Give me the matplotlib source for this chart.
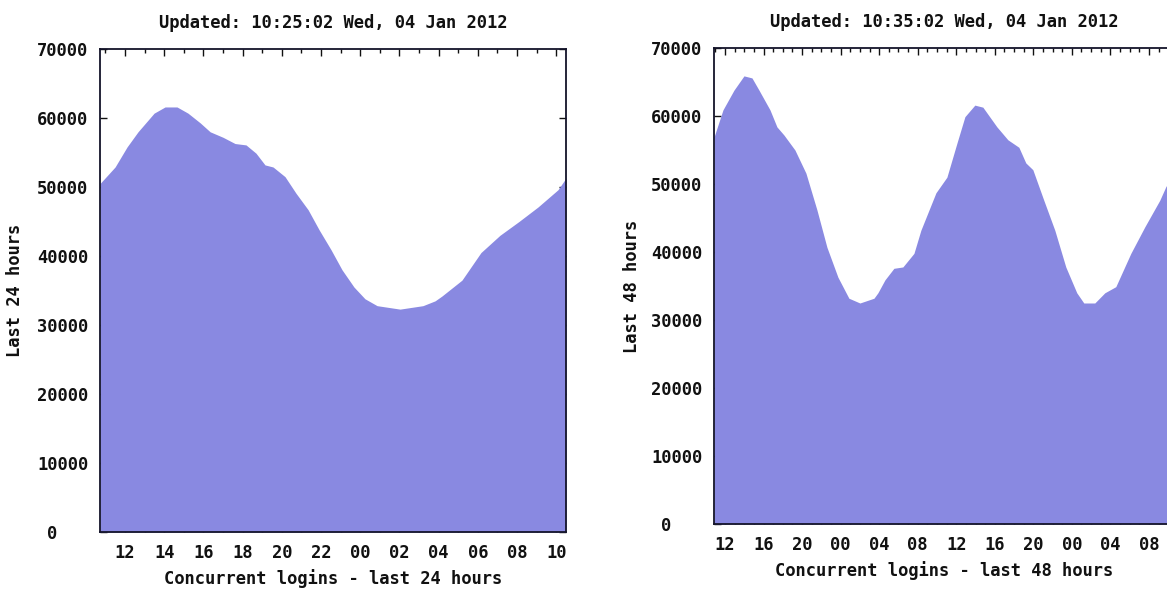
import matplotlib
matplotlib.use("Agg")
import matplotlib.pyplot as plt
from matplotlib.ticker import FixedLocator, MultipleLocator, FuncFormatter

# ---- data (hours since 00:00 of first day, concurrent logins) ----
hours_24 = [10.72, 11.49, 12.10, 12.66, 13.48, 14.04, 14.65, 15.21, 15.83, 16.34,
            17.00, 17.61, 18.17, 18.68, 19.14, 19.55, 20.16, 20.72, 21.34, 21.90,
            22.51, 23.07, 23.68, 24.24, 24.86, 26.03, 27.20, 27.82, 28.17, 29.19,
            30.16, 31.13, 32.10, 33.07, 34.09, 34.50]
logins_24 = [50500, 52900, 55800, 58000, 60700, 61600, 61600, 60700, 59300, 58000,
             57200, 56300, 56100, 54900, 53200, 52900, 51500, 49100, 46700, 43800,
             40900, 38000, 35500, 33800, 32800, 32300, 32800, 33500, 34200, 36500,
             40500, 43000, 45000, 47100, 49600, 51300]

hours_48 = [10.86, 11.79, 12.93, 13.97, 14.80, 15.53, 16.67, 17.39, 18.12, 19.26,
            20.40, 21.54, 22.58, 23.72, 24.86, 26.00, 27.46, 27.87, 28.60, 29.53,
            30.46, 31.61, 32.33, 33.89, 35.03, 36.07, 36.90, 37.93, 38.76, 40.22,
            41.36, 42.50, 43.22, 43.95, 45.09, 46.23, 47.37, 48.51, 49.24, 50.38,
            51.42, 52.56, 54.12, 55.57, 57.12, 57.75, 58.60]
logins_48 = [56900, 60900, 63800, 65900, 65600, 63800, 60900, 58400, 57200, 55000,
             51600, 46200, 40700, 36300, 33200, 32500, 33200, 34000, 35900, 37600,
             37800, 39800, 43200, 48700, 51000, 56000, 59900, 61600, 61300, 58400,
             56500, 55400, 53100, 52100, 47600, 43200, 37800, 34000, 32500, 32500,
             34000, 34900, 39800, 43700, 47600, 49600, 51500]

titles = ["Updated: 10:25:02 Wed, 04 Jan 2012", "Updated: 10:35:02 Wed, 04 Jan 2012"]
xlabels = ["Concurrent logins - last 24 hours", "Concurrent logins - last 48 hours"]
ylabels = ["Last 24 hours", "Last 48 hours"]
y_ticks = [0, 10000, 20000, 30000, 40000, 50000, 60000, 70000]
y_ticklabels = ["0   ", "10000", "20000", "30000", "40000", "50000", "60000", "70000"]

FILL = "#8989E1"
FONT = dict(family="DejaVu Sans Mono", weight="bold", size=12.3)

W, H = 1167, 589
fig = plt.figure(figsize=(W / 100, H / 100), dpi=100)
fig.patch.set_facecolor("white")

# pixel boxes: left, right, top, bottom
boxes = [(100, 566, 49, 532), (714, 1174, 48, 524)]
xlims = [(10.72, 34.5), (10.86, 58.6)]
majors = [2, 4]
series = [(hours_24, logins_24), (hours_48, logins_48)]
ylabel_x = [15, 632]

for i in range(2):
    l, r, t, b = boxes[i]
    ax = fig.add_axes([l / W, (H - b) / H, (r - l) / W, (b - t) / H])
    xs, ys = series[i]
    ax.fill_between(xs, ys, 0, color=FILL, lw=0, zorder=1)
    ax.set_xlim(*xlims[i])
    ax.set_ylim(0, 70000)
    ax.set_axisbelow(True)

    ax.xaxis.set_major_locator(MultipleLocator(majors[i]))
    ax.xaxis.set_minor_locator(MultipleLocator(1))
    ax.xaxis.set_major_formatter(FuncFormatter(lambda v, p: "%02d" % (int(round(v)) % 24)))
    ax.yaxis.set_major_locator(FixedLocator(y_ticks))
    ax.set_yticklabels(y_ticklabels)

    ax.tick_params(which="both", direction="in", top=True, right=True, color="#111")
    ax.tick_params(which="major", length=5, width=1)
    ax.tick_params(which="minor", length=3, width=1)
    ax.tick_params(axis="x", which="major", pad=9)
    ax.tick_params(axis="y", which="major", pad=8.5)
    for lab in ax.get_xticklabels() + ax.get_yticklabels():
        lab.set_fontfamily(FONT["family"])
        lab.set_fontweight(FONT["weight"])
        lab.set_fontsize(FONT["size"])
        lab.set_color("#111")

    for s in ax.spines.values():
        s.set_linewidth(1.3)
        s.set_color("#14142a")
        s.set_zorder(3)

    ax.set_title(titles[i], pad=15, color="#111", **FONT)
    ax.set_xlabel(xlabels[i], labelpad=5, color="#111", **FONT)
    ax.set_ylabel(ylabels[i], color="#111", **FONT)
    ax.yaxis.set_label_coords((ylabel_x[i] - l) / (r - l), 0.5)
    ax.yaxis.label.set_verticalalignment("center")

fig.savefig("out.png", dpi=100)
